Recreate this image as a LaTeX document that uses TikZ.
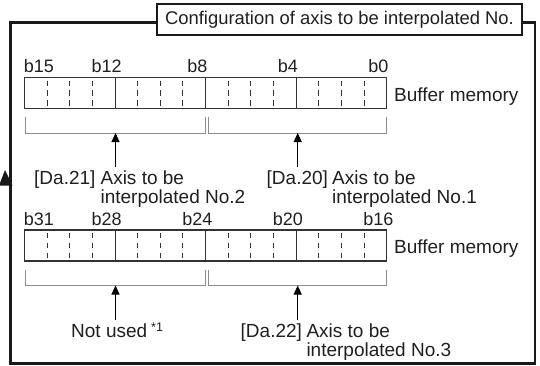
\documentclass[tikz,border=0pt]{standalone}
\usepackage{fontspec}
\setmainfont{Liberation Sans}
\usetikzlibrary{arrows.meta}
\begin{document}
\begin{tikzpicture}[x=1pt,y=-1pt,
  txt/.style={font=\fontsize{19}{19}\selectfont, inner sep=0pt, text=black!88, anchor=base west},
  bitlbl/.style={font=\fontsize{18}{19}\selectfont, inner sep=0pt, anchor=base, text=black!88},
  regbox/.style={draw=black!80, line width=1.2pt, inner sep=0pt, minimum width=362.2pt, minimum height=31pt},
  solidsep/.style={draw=black!80, line width=1.1pt},
  dashsep/.style={draw=black!80, line width=1pt, dash pattern=on 5.3pt off 4.6pt, dash phase=6.9pt},
  brk/.style={draw=black!45, line width=1pt},
  arr/.style={draw=black, line width=1pt, -{Triangle[length=9pt,width=8pt]}},
]
\useasboundingbox (0,0) rectangle (540,365);
% outer frame
\draw[line width=2.8pt, draw=black!90] (10.5,363.5) -- (10.5,22.5) -- (535,22.5) -- (535,363.5) -- cycle;
% partial arrowhead at left edge
\fill[black!90] (-1,185.5) -- (12.5,185.5) -- (5,170) -- cycle;
% title
\node (title) [draw=black!90, fill=white, line width=2pt, inner sep=0pt, minimum width=365pt, minimum height=30.5pt,
  font=\fontsize{18.4}{19}\selectfont, text=black!88] at (339.5,19.25) {Configuration of axis to be interpolated No.};

% registers
\node (reg1) [regbox] at (205.6,93) {};
\node (reg2) [regbox] at (205.6,245.5) {};
\foreach \k in {1,...,15}{
  \pgfmathsetmacro{\xx}{24.5+\k*22.6375}
  \pgfmathtruncatemacro{\mm}{mod(\k,4)}
  \ifnum\mm=0
    \draw[solidsep] (\xx,77.5) -- (\xx,108.5);
    \draw[solidsep] (\xx,230) -- (\xx,261);
  \else
    \draw[dashsep] (\xx,77.5) -- (\xx,108.5);
    \draw[dashsep] (\xx,230) -- (\xx,261);
  \fi
}
% bit labels
\node (b15) [bitlbl] at (38.8,72.7) {b15};
\node (b12) [bitlbl] at (106.7,72.7) {b12};
\node (b8)  [bitlbl] at (197.3,72.7) {b8};
\node (b4)  [bitlbl] at (287.8,72.7) {b4};
\node (b0)  [bitlbl] at (378.4,72.7) {b0};
\node (b31) [bitlbl] at (38.8,225.2) {b31};
\node (b28) [bitlbl] at (106.7,225.2) {b28};
\node (b24) [bitlbl] at (197.3,225.2) {b24};
\node (b20) [bitlbl] at (287.8,225.2) {b20};
\node (b16) [bitlbl] at (378.4,225.2) {b16};
\node (bm1) [txt] at (394,101) {Buffer memory};
\node (bm2) [txt] at (394,253.5) {Buffer memory};

% brackets
\draw[brk] (25,117) -- (25,133) -- (205,133) -- (205,117);
\draw[brk] (208.5,117) -- (208.5,133) -- (386.5,133) -- (386.5,117);
\draw[brk] (25,269.5) -- (25,285.5) -- (205,285.5) -- (205,269.5);
\draw[brk] (208.5,269.5) -- (208.5,285.5) -- (386.5,285.5) -- (386.5,269.5);
\coordinate (m1) at (115.5,133);
\coordinate (m2) at (297.7,133);
\coordinate (m3) at (115.5,285.5);
\coordinate (m4) at (297.7,285.5);
\coordinate (s1) at (115.5,166.7);
\coordinate (s2) at (297.7,166.7);
\coordinate (s3) at (115.5,319.6);
\coordinate (s4) at (297.7,319.6);
\draw[arr] (s1) -- (m1);
\draw[arr] (s2) -- (m2);
\draw[arr] (s3) -- (m3);
\draw[arr] (s4) -- (m4);

% labels
\node (da21) [txt] at (34,184) {[Da.21]};
\node (da21a) [txt] at (100.4,184) {Axis to be};
\node (da21b) [txt] at (100.4,203) {interpolated No.2};
\node (da20) [txt] at (266.5,184) {[Da.20]};
\node (da20a) [txt] at (332,184) {Axis to be};
\node (da20b) [txt] at (332,203) {interpolated No.1};
\node (nu) [txt] at (71,337.5) {Not used\hspace{4pt}\raisebox{6pt}{\fontsize{12.5}{12}\selectfont *1}};
\node (da22) [txt] at (240.5,337.5) {[Da.22]};
\node (da22a) [txt] at (306.3,337.5) {Axis to be};
\node (da22b) [txt] at (306.3,356.5) {interpolated No.3};
\end{tikzpicture}
\end{document}
